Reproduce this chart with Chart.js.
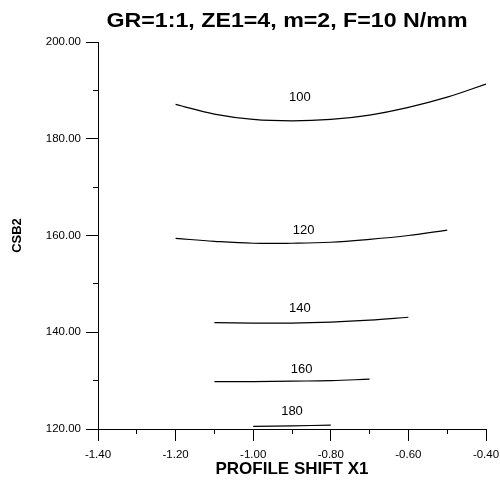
<!DOCTYPE html>
<html>
<head>
<meta charset="utf-8">
<script src="https://cdn.jsdelivr.net/npm/chart.js@4.4.0/dist/chart.umd.min.js"></script>
<style>
  html, body { margin: 0; padding: 0; background: #fff; }
</style>
</head>
<body>
<canvas id="chart" width="500" height="486"></canvas>
<script>
const chartTitle = 'GR=1:1, ZE1=4, m=2, F=10 N/mm';
const xTitle = 'PROFILE SHIFT X1';
const yTitle = 'CSB2';

// contour levels and their lines (x = profile shift, y = CSB2)
const levels = ['100', '120', '140', '160', '180'];
const x100 = [-1.2, -1.1, -1.0, -0.9, -0.8, -0.7, -0.6, -0.5, -0.4];
const y100 = [187.1, 185.1, 184.0, 183.7, 184.0, 184.9, 186.5, 188.6, 191.3];
const x120 = [-1.2, -1.1, -1.0, -0.9, -0.8, -0.7, -0.6, -0.5];
const y120 = [159.4, 158.8, 158.4, 158.4, 158.6, 159.2, 160.0, 161.1];
const x140 = [-1.1, -1.0, -0.9, -0.8, -0.7, -0.6];
const y140 = [142.0, 141.9, 141.9, 142.1, 142.5, 143.1];
const x160 = [-1.1, -1.0, -0.9, -0.8, -0.7];
const y160 = [129.8, 129.8, 129.9, 130.0, 130.3];
const x180 = [-1.0, -0.9, -0.8];
const y180 = [120.55, 120.65, 120.8];

// where each level label sits
const labelX = [-0.88, -0.87, -0.88, -0.875, -0.90];
const labelY = [188.5, 161.1, 145.0, 132.3, 123.6];

const curves = [[x100, y100], [x120, y120], [x140, y140], [x160, y160], [x180, y180]];

const FONT = '"Liberation Sans", Arial, sans-serif';

const overlay = {
    id: 'overlay',
    afterDatasetsDraw(chart) {
        const { ctx, chartArea, scales: { x, y } } = chart;
        ctx.save();
        ctx.fillStyle = '#000';
        ctx.textAlign = 'center';
        ctx.textBaseline = 'alphabetic';
        // title is a bit wide in the original, stretch it horizontally
        ctx.save();
        ctx.translate((chartArea.left + chartArea.right) / 2 - 5, 27);
        ctx.scale(1.16, 1);
        ctx.font = 'bold 20px ' + FONT;
        ctx.fillText(chartTitle, 0, 0);
        ctx.restore();
        ctx.font = '13px ' + FONT;
        ctx.textBaseline = 'middle';
        levels.forEach((t, i) => {
            ctx.fillText(t, x.getPixelForValue(labelX[i]), y.getPixelForValue(labelY[i]));
        });
        ctx.restore();
    }
};

new Chart(document.getElementById('chart'), {
    type: 'scatter',
    data: {
        datasets: curves.map((c, i) => ({
            label: levels[i],
            data: c[0].map((v, j) => ({ x: v, y: c[1][j] })),
            showLine: true,
            borderColor: '#000',
            borderWidth: 1.2,
            pointRadius: 0,
            tension: 0.4,
            fill: false
        }))
    },
    options: {
        responsive: false,
        animation: false,
        layout: { padding: { top: 42, right: 14, left: 0, bottom: 0 } },
        plugins: {
            legend: { display: false },
            tooltip: { enabled: false }
        },
        scales: {
            x: {
                type: 'linear',
                position: 'bottom',
                weight: 1,
                min: -1.4,
                max: -0.4,
                ticks: {
                    stepSize: 0.2,
                    autoSkip: false,
                    maxRotation: 0,
                    padding: 7,
                    color: '#000',
                    font: { family: FONT, size: 11.5 },
                    callback: v => v.toFixed(2)
                },
                grid: { drawOnChartArea: false, tickLength: 12, color: '#000' },
                border: { color: '#000' },
                title: {
                    display: true,
                    text: xTitle,
                    color: '#000',
                    font: { family: FONT, size: 17, weight: 'bold' },
                    padding: { top: 0, bottom: 6 }
                },
                afterFit: s => { s.height = 57; s.paddingLeft = 0; s.paddingRight = 0; }
            },
            xMinor: {
                type: 'linear',
                position: 'bottom',
                weight: 0,
                min: -1.4,
                max: -0.4,
                ticks: { display: false, stepSize: 0.1 },
                grid: { drawOnChartArea: false, tickLength: 5, color: '#000' },
                border: { display: false },
                afterFit: s => { s.height = 0; s.paddingLeft = 0; s.paddingRight = 0; }
            },
            y: {
                type: 'linear',
                position: 'left',
                weight: 1,
                min: 120,
                max: 200,
                ticks: {
                    stepSize: 20,
                    padding: 5,
                    color: '#000',
                    font: { family: FONT, size: 11.5 },
                    callback: v => v.toFixed(2)
                },
                grid: { drawOnChartArea: false, tickLength: 12, color: '#000' },
                border: { color: '#000' },
                title: {
                    display: true,
                    text: yTitle,
                    color: '#000',
                    font: { family: FONT, size: 13, weight: 'bold' },
                    padding: { top: 10, bottom: 0 }
                },
                afterFit: s => { s.width = 98; s.paddingTop = 0; s.paddingBottom = 0; }
            },
            yMinor: {
                type: 'linear',
                position: 'left',
                weight: 0,
                min: 120,
                max: 200,
                ticks: { display: false, stepSize: 10 },
                grid: { drawOnChartArea: false, tickLength: 5, color: '#000' },
                border: { display: false },
                afterFit: s => { s.width = 0; s.paddingTop = 0; s.paddingBottom = 0; }
            }
        }
    },
    plugins: [overlay]
});
</script>
</body>
</html>
